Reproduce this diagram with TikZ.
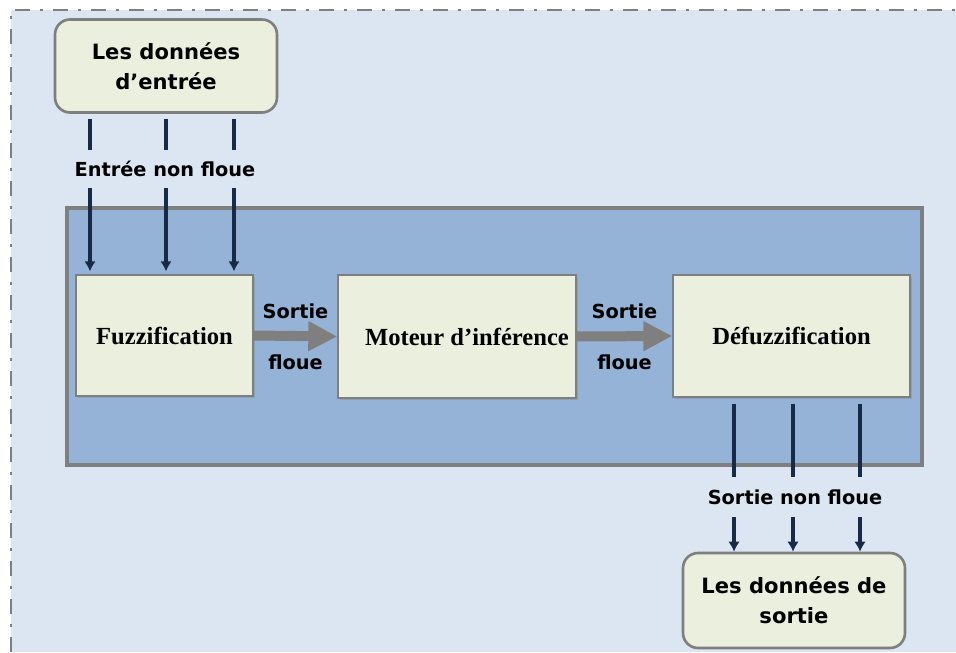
\documentclass[tikz,border=0pt]{standalone}
\usepackage{fontspec}
\setmainfont{Liberation Serif}
\newfontfamily\labelsans{DejaVu Sans}
\usetikzlibrary{arrows.meta,shadows}

\definecolor{pagebg}{HTML}{DCE6F2}
\definecolor{systembg}{HTML}{95B3D7}
\definecolor{boxfill}{HTML}{EBF0DE}
\definecolor{rulegray}{HTML}{7F7F7F}
\definecolor{wirenavy}{HTML}{172A48}

\tikzset{
  databox/.style={draw=rulegray, line width=1.5pt, fill=boxfill, rounded corners=0.3cm,
    align=center, font=\labelsans\bfseries\fontsize{12}{17}\selectfont},
  stagebox/.style={draw=rulegray, line width=0.8pt, fill=boxfill,
    font=\bfseries\fontsize{14}{16}\selectfont,
    drop shadow={shadow xshift=0.04cm, shadow yshift=-0.04cm, opacity=0.35}},
  wire/.style={draw=wirenavy, line width=2pt},
  wirehead/.style={wire, -{Latex[length=2mm,width=2.3mm]}},
  fuzzyflow/.style={draw=rulegray, line width=0.2cm, -{Triangle[length=5.8mm,width=5.6mm]}},
  flowlabel/.style={font=\labelsans\bfseries\fontsize{11}{13}\selectfont, inner sep=0pt},
}

\begin{document}
\begin{tikzpicture}[x=0.02cm, y=-0.02cm]
    \useasboundingbox (0,0) rectangle (956,652);

    % page background with its dash-dot frame
    \fill[pagebg] (11,10) rectangle (956,652);
    \draw[rulegray, line width=1.6pt, dash pattern=on 0.3cm off 0.2cm on 0.06cm off 0.2cm]
        (11,652) -- (11,10) -- (956,10);

    % fuzzy system
    \draw[draw=rulegray, line width=2pt, fill=systembg] (67,208) rectangle (922,465);

    \node[databox, minimum width=4.44cm, minimum height=1.86cm] (entree) at (166,66)
        {Les données\\d’entrée};
    \node[stagebox, minimum width=3.54cm, minimum height=2.42cm] (fuzz) at (164.5,335.5)
        {Fuzzification};
    \node[stagebox, minimum width=4.76cm, minimum height=2.46cm] (moteur) at (457,336.5)
        {\hspace*{0.4cm}Moteur d’inférence};
    \node[stagebox, minimum width=4.74cm, minimum height=2.44cm] (defuzz) at (791.5,336)
        {Défuzzification};
    \node[databox, minimum width=4.44cm, minimum height=1.9cm] (sortie) at (794,600.5)
        {Les données de\\sortie};

    \node[flowlabel, minimum height=0.76cm] (crispin) at (165,169) {Entrée non floue};
    \node[flowlabel, minimum height=0.8cm] (crispout) at (795,497) {Sortie non floue};

    % crisp inputs
    \foreach \dx in {-76,0,68} {
        \draw[wire, shorten <=0.1cm] ([xshift=\dx*0.02cm]entree.south)
            -- ([xshift=\dx*0.02cm]entree.south |- crispin.north);
        \draw[wirehead, shorten >=0.06cm] ([xshift=\dx*0.02cm]entree.south |- crispin.south)
            -- ([xshift=\dx*0.02cm]entree.south |- fuzz.north);
    }

    % crisp outputs
    \foreach \dx in {-57.5,1.5,68.5} {
        \draw[wire, shorten <=0.12cm] ([xshift=\dx*0.02cm]defuzz.south)
            -- ([xshift=\dx*0.02cm]defuzz.south |- crispout.north);
        \draw[wirehead] ([xshift=\dx*0.02cm]defuzz.south |- crispout.south)
            -- ([xshift=\dx*0.02cm]defuzz.south |- sortie.north);
    }

    % fuzzy outputs between stages
    \draw[fuzzyflow] (fuzz.east) -- (moteur.west)
        node[flowlabel, midway, yshift=0.5cm] {Sortie}
        node[flowlabel, midway, yshift=-0.52cm] {floue};
    \draw[fuzzyflow] (moteur.east) -- (defuzz.west)
        node[flowlabel, midway, yshift=0.5cm] {Sortie}
        node[flowlabel, midway, yshift=-0.52cm] {floue};
\end{tikzpicture}
\end{document}
